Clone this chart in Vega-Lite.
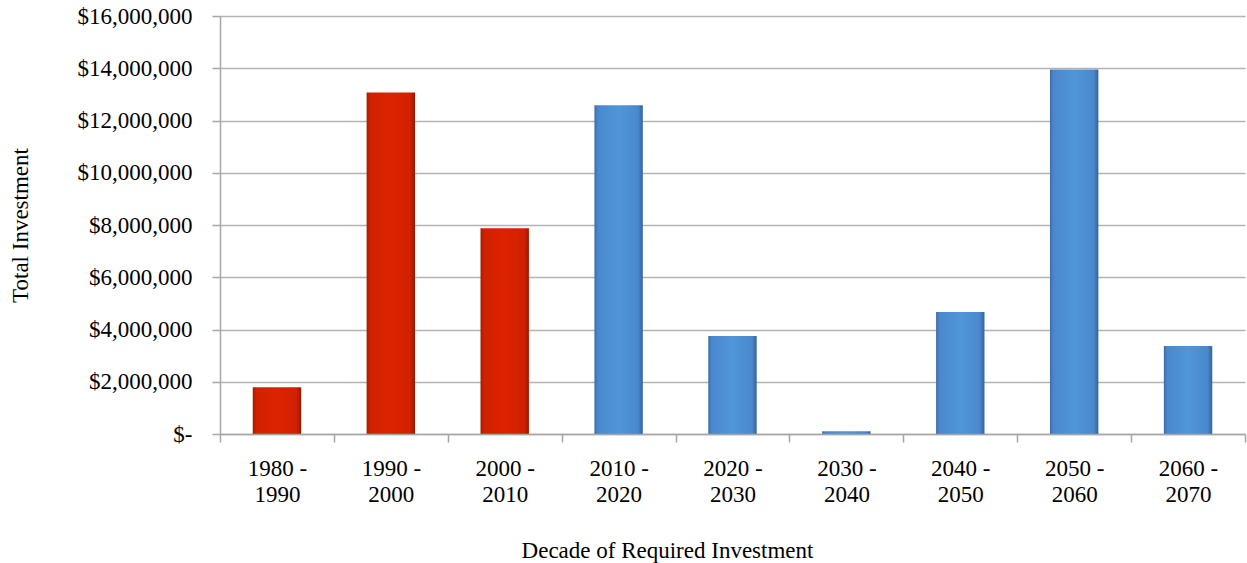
{
  "$schema": "https://vega.github.io/schema/vega-lite/v6.json",
  "width": 1025,
  "height": 418,
  "autosize": {"type": "none"},
  "padding": {"left": 220, "top": 16, "right": 2, "bottom": 129},
  "background": "white",
  "config": {
    "view": {"stroke": null},
    "font": "Liberation Serif",
    "axis": {
      "labelFont": "Liberation Serif",
      "titleFont": "Liberation Serif",
      "labelFontSize": 23,
      "titleFontSize": 23,
      "labelColor": "#000000",
      "titleColor": "#000000",
      "titleFontWeight": "normal",
      "domainColor": "#a6a6a6",
      "domainWidth": 1.5,
      "tickColor": "#a6a6a6",
      "tickWidth": 1.5,
      "tickSize": 8,
      "gridColor": "#b3b3b3",
      "gridWidth": 1.5
    }
  },
  "data": {
    "values": [
      {"decade": "1980 - 1990", "investment": 1790000, "period": "past"},
      {"decade": "1990 - 2000", "investment": 13070000, "period": "past"},
      {"decade": "2000 - 2010", "investment": 7880000, "period": "past"},
      {"decade": "2010 - 2020", "investment": 12580000, "period": "future"},
      {"decade": "2020 - 2030", "investment": 3750000, "period": "future"},
      {"decade": "2030 - 2040", "investment": 110000, "period": "future"},
      {"decade": "2040 - 2050", "investment": 4670000, "period": "future"},
      {"decade": "2050 - 2060", "investment": 13950000, "period": "future"},
      {"decade": "2060 - 2070", "investment": 3370000, "period": "future"}
    ]
  },
  "encoding": {
    "x": {
      "field": "decade",
      "type": "nominal",
      "sort": null,
      "scale": {"paddingInner": 0, "paddingOuter": 0},
      "axis": {
        "title": "Decade of Required Investment",
        "labelAngle": 0,
        "labelPadding": 15,
        "labelLineHeight": 26.5,
        "labelExpr": "[slice(datum.label, 0, 6), slice(datum.label, 7)]",
        "tickBand": "extent",
        "grid": false,
        "zindex": 1,
        "titleX": 447,
        "titleY": 116,
        "titleBaseline": "middle",
        "titleAlign": "center"
      }
    },
    "y": {
      "field": "investment",
      "type": "quantitative",
      "scale": {"domain": [0, 16000000], "nice": false},
      "axis": {
        "title": "Total Investment",
        "values": [0, 2000000, 4000000, 6000000, 8000000, 10000000, 12000000, 14000000, 16000000],
        "labelExpr": "datum.value == 0 ? '$-\u00a0\u00a0' : '$' + format(datum.value, ',')",
        "labelPadding": 20,
        "grid": true,
        "zindex": 0,
        "titleX": -200,
        "titleY": 209,
        "titleAngle": -90,
        "titleBaseline": "middle",
        "titleAlign": "center"
      }
    }
  },
  "layer": [
    {
      "transform": [{"filter": "datum.period == 'past'"}],
      "mark": {
        "type": "bar",
        "width": {"band": 0.425},
        "color": {
          "gradient": "linear",
          "x1": 0, "y1": 0, "x2": 1, "y2": 0,
          "stops": [
            {"offset": 0, "color": "#a51b00"},
            {"offset": 0.07, "color": "#d02100"},
            {"offset": 0.5, "color": "#dc2300"},
            {"offset": 0.9, "color": "#d02100"},
            {"offset": 1, "color": "#9a1700"}
          ]
        }
      }
    },
    {
      "transform": [{"filter": "datum.period == 'future'"}],
      "mark": {
        "type": "bar",
        "width": {"band": 0.425},
        "color": {
          "gradient": "linear",
          "x1": 0, "y1": 0, "x2": 1, "y2": 0,
          "stops": [
            {"offset": 0, "color": "#3c6ca5"},
            {"offset": 0.07, "color": "#4a88cc"},
            {"offset": 0.5, "color": "#5096da"},
            {"offset": 0.9, "color": "#4a88cc"},
            {"offset": 1, "color": "#37629a"}
          ]
        }
      }
    }
  ]
}
